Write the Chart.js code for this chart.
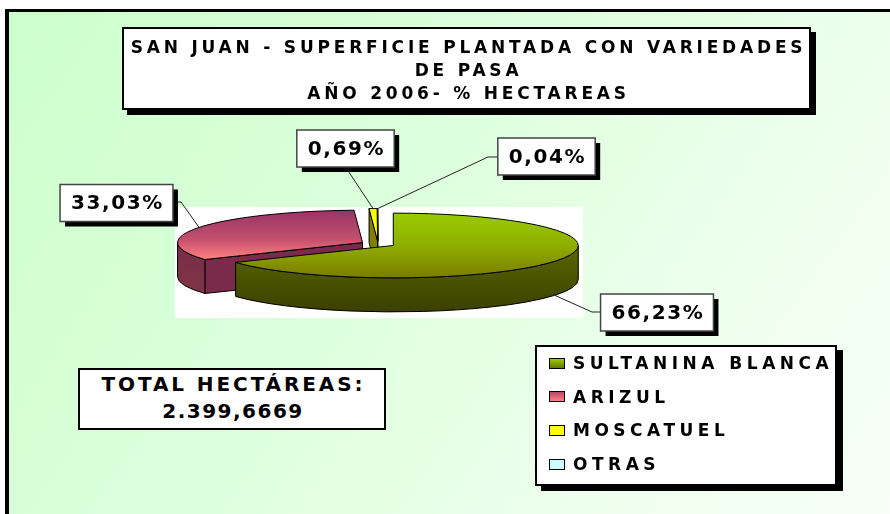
<!DOCTYPE html>
<html>
<head>
<meta charset="utf-8">
<script src="https://cdn.jsdelivr.net/npm/chart.js"></script>
<style>
  html, body { margin: 0; padding: 0; width: 890px; height: 514px; overflow: hidden; background: #fff; }
  #frame { position: absolute; left: 5px; top: 9px; width: 900px; height: 520px;
    border-left: 4px solid #000; border-top: 3px solid #000;
    background: linear-gradient(125deg, #ccffcc 0%, #dcffdc 40%, #ecffec 70%, #f8fff8 100%); }
  #chart { position: absolute; left: 0; top: 0; }
  .box { position: absolute; background: #fff; border: 2px solid #000; box-sizing: border-box;
    font-family: "DejaVu Sans", sans-serif; font-weight: bold; color: #000; text-align: center; }
  #title { left: 122px; top: 27px; width: 689px; height: 83px; box-shadow: 5px 5px 0 #000;
    font-size: 17px; letter-spacing: 3.8px; line-height: 23px; padding-top: 7px; padding-left: 4px; }
  #total { left: 78px; top: 368px; width: 308px; height: 62px;
    font-size: 20px; line-height: 27px; padding-top: 1px; }
  #total div:nth-child(1) { letter-spacing: 2.9px; padding-left: 3px; }
  #total div:nth-child(2) { letter-spacing: 1.5px; padding-left: 2px; }
  #legend { left: 535px; top: 345px; width: 302px; height: 141px; box-shadow: 6px 5px 0 #000; text-align: left; }
  .lrow { position: absolute; left: 12px; height: 20px; display: flex; align-items: center;
    font-size: 17px; letter-spacing: 4.5px; }
  .sw { width: 14px; height: 9px; border: 1px solid #000; margin-right: 8px; }
</style>
</head>
<body>
<div id="frame"></div>
<canvas id="chart" width="890" height="514"></canvas>
<div id="title" class="box"></div>
<div id="total" class="box"></div>
<div id="legend" class="box"></div>
<script>
// ---- data ----
const categories = ['SULTANINA BLANCA', 'ARIZUL', 'MOSCATUEL', 'OTRAS'];
const percentValues = [66.23, 33.03, 0.69, 0.04];
const titleLines = ['SAN JUAN - SUPERFICIE PLANTADA CON VARIEDADES', 'DE PASA', 'AÑO 2006- % HECTAREAS'];
const totalLines = ['TOTAL HECTÁREAS:', '2.399,6669'];

// ---- styles ----
const RADIUS = 185;
const topStops = [
  [[0, '#99cc00'], [0.5, '#8fae00'], [1, '#7a7c00']],
  [[0, '#993366'], [0.45, '#c4506e'], [0.75, '#ff8080'], [1, '#ff8080']],
  [[0, '#ffff00']],
  [[0, '#ccffff']]
];
const sideColors = [
  ['#5a6800', '#3a4000'],
  ['#7a2a4a', '#7e3a44'],
  ['#808000', '#606000'],
  ['#66aaaa', '#449999']
];
const swatchCss = [
  'linear-gradient(#99cc00, #667700)',
  'linear-gradient(#bb4466, #ff8080)',
  '#ffff00',
  '#ccffff'
];

function fmt(v) { return v.toFixed(2).replace('.', ',') + '%'; }

document.getElementById('title').innerHTML = titleLines.map(t => '<div>' + t + '</div>').join('');
document.getElementById('total').innerHTML = totalLines.map(t => '<div>' + t + '</div>').join('');
const leg = document.getElementById('legend');
categories.forEach((c, i) => {
  const r = document.createElement('div');
  r.className = 'lrow';
  r.style.top = (6 + i * 33.7) + 'px';
  r.innerHTML = '<span class="sw" style="background:' + swatchCss[i] + '"></span><span>' + c + '</span>';
  leg.appendChild(r);
});

function ellipse(ctx, cx, cy, K) { ctx.translate(cx, cy); ctx.scale(1, K); ctx.translate(-cx, -cy); }

function sliceGeom(chart, opts) {
  const arcs = chart.getDatasetMeta(0).data;
  return arcs.map((arc, i) => {
    const mid = (arc.startAngle + arc.endAngle) / 2;
    return { arc, i, mid, ex: Math.cos(mid) * opts.explode, ey: Math.sin(mid) * opts.explode };
  });
}

const pie3d = {
  id: 'pie3d',
  beforeDatasetsDraw(chart, args, opts) {
    const ctx = chart.ctx;
    const items = sliceGeom(chart, opts);
    if (!items.length) return;
    const K = opts.tilt, D = opts.depth, Dp = D / K;
    const cx = items[0].arc.x, cy = items[0].arc.y;
    ctx.save();
    ctx.fillStyle = '#ffffff';
    ctx.fillRect(cx + opts.plot[0], cy + opts.plot[1], opts.plot[2], opts.plot[3]);
    ctx.restore();
    const order = items.slice().sort((a, b) => a.ey - b.ey);
    for (const it of order) {
      const { arc, i, ex, ey } = it;
      const x = arc.x + ex, y = arc.y + ey, R = arc.outerRadius;
      const s = arc.startAngle, e = arc.endAngle;
      const sc = sideColors[i];
      ctx.lineWidth = 1; ctx.strokeStyle = '#000';
      const faces = [];
      if (Math.cos(s) < -1e-9) faces.push(s);
      if (Math.cos(e) > 1e-9) faces.push(e);
      for (const a of faces) {
        ctx.save(); ellipse(ctx, cx, cy, K);
        ctx.beginPath();
        ctx.moveTo(x, y);
        ctx.lineTo(x + R * Math.cos(a), y + R * Math.sin(a));
        ctx.lineTo(x + R * Math.cos(a), y + R * Math.sin(a) + Dp);
        ctx.lineTo(x, y + Dp);
        ctx.closePath();
        ctx.restore();
        ctx.fillStyle = sc[0]; ctx.fill(); ctx.stroke();
      }
      const lo = Math.max(s, 0), hi = Math.min(e, Math.PI);
      if (hi > lo) {
        ctx.save(); ellipse(ctx, cx, cy, K);
        ctx.beginPath();
        ctx.arc(x, y, R, lo, hi);
        ctx.arc(x, y + Dp, R, hi, lo, true);
        ctx.closePath();
        ctx.restore();
        const sy = cy + ey * K;
        const g = ctx.createLinearGradient(0, sy, 0, sy + R * K + D);
        g.addColorStop(0, sc[0]); g.addColorStop(1, sc[1]);
        ctx.fillStyle = g; ctx.fill(); ctx.stroke();
      }
      ctx.save(); ellipse(ctx, cx, cy, K); ctx.translate(ex, ey); arc.draw(ctx); ctx.restore();
      ctx.save(); ellipse(ctx, cx, cy, K);
      ctx.beginPath(); ctx.moveTo(x, y); ctx.arc(x, y, R, s, e); ctx.closePath();
      ctx.restore();
      ctx.stroke();
    }
    return false;
  },
  afterDraw(chart, args, opts) {
    const ctx = chart.ctx;
    const items = sliceGeom(chart, opts);
    if (!items.length) return;
    const K = opts.tilt, D = opts.depth;
    const cy = items[0].arc.y;
    ctx.save();
    ctx.font = 'bold 20px "DejaVu Sans"';
    ctx.letterSpacing = '1.6px';
    ctx.textAlign = 'center'; ctx.textBaseline = 'middle';
    items.forEach(it => {
      const L = opts.labels[it.i];
      const R = it.arc.outerRadius;
      const px = it.arc.x + it.ex + R * Math.cos(it.mid);
      const pyPre = it.arc.y + it.ey + R * Math.sin(it.mid);
      let py = cy + K * (pyPre - cy);
      if (Math.sin(it.mid) > 0) py += D;
      const text = fmt(percentValues[it.i]);
      const w = ctx.measureText(text).width + 20, h = 37;
      const bx = L.cx - w / 2, by = L.cy - h / 2;
      ctx.beginPath();
      ctx.moveTo(px, py);
      if (L.side === 'bottom') {
        ctx.lineTo(L.cx, by + h);
      } else {
        ctx.lineTo(L.knee[0], L.knee[1]);
        ctx.lineTo(L.side === 'left' ? bx : bx + w, L.knee[1]);
      }
      ctx.lineWidth = 1; ctx.strokeStyle = '#222'; ctx.stroke();
      ctx.fillStyle = '#000';
      ctx.fillRect(bx + 5, by + 5, w, h);
      ctx.fillStyle = '#fff';
      ctx.fillRect(bx, by, w, h);
      ctx.lineWidth = 1.5; ctx.strokeStyle = '#444';
      ctx.strokeRect(bx, by, w, h);
      ctx.fillStyle = '#000';
      ctx.fillText(text, L.cx + 1, L.cy + 1);
    });
    ctx.restore();
  }
};

new Chart(document.getElementById('chart'), {
  type: 'pie',
  data: {
    labels: categories,
    datasets: [{
      data: percentValues,
      borderWidth: 0,
      clip: false,
      backgroundColor: (c) => {
        const i = c.dataIndex;
        if (i === undefined) return '#999';
        const st = topStops[i];
        const a = c.chart.chartArea;
        if (!a || st.length === 1) return st[0][1];
        const cyy = (a.top + a.bottom) / 2;
        const g = c.chart.ctx.createLinearGradient(0, cyy - RADIUS, 0, cyy + RADIUS);
        st.forEach(([o, col]) => g.addColorStop(o, col));
        return g;
      }
    }]
  },
  options: {
    responsive: false,
    animation: false,
    radius: RADIUS,
    layout: { padding: { left: 150, right: 284, top: 50, bottom: 76 } },
    events: [],
    plugins: {
      legend: { display: false },
      tooltip: { enabled: false },
      title: { display: false },
      pie3d: {
        tilt: 0.175, depth: 34, explode: 17.5,
        plot: [-203, -37, 408, 111],
        labels: [
          { cx: 657, cy: 312.5, knee: [592, 312], side: 'left' },
          { cx: 116.5, cy: 203, knee: [181, 202], side: 'right' },
          { cx: 345.5, cy: 148.5, side: 'bottom' },
          { cx: 546.5, cy: 156.5, knee: [488, 157], side: 'left' }
        ]
      }
    }
  },
  plugins: [pie3d]
});
</script>
</body>
</html>
